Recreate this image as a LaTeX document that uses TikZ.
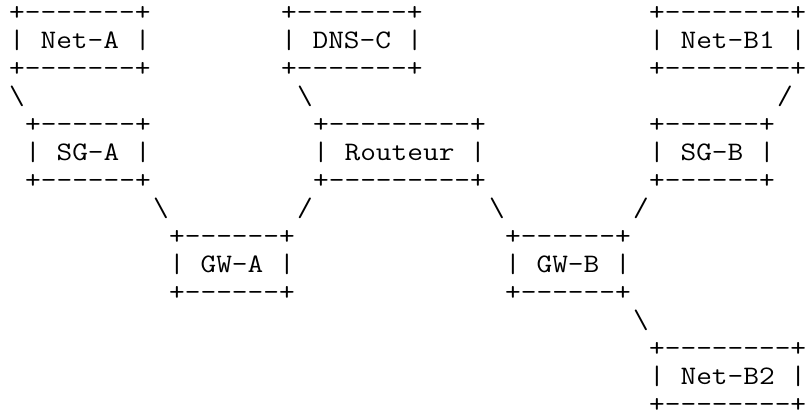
\documentclass[tikz,border=0pt]{standalone}
\begin{document}
\begin{tikzpicture}[x=16pt, y=-28pt,
    ascii/.style={font=\fontsize{30.48}{32}\selectfont\ttfamily,
      inner sep=0pt, anchor=base west, align=left,
      yscale=0.875, transform shape}]

  \useasboundingbox (-9pt,20.5pt) rectangle (797pt,-392.5pt);

  % Kaesten oben (Grundlinie = unterste Zeile)
  \node[ascii] (neta) at (0,2) {+-------+\\| Net-A |\\+-------+};
  \node[ascii] (dnsc) at (17,2) {+-------+\\| DNS-C |\\+-------+};
  \node[ascii] (netbone) at (40,2) {+--------+\\| Net-B1 |\\+--------+};

  % Verbindungen zur zweiten Reihe
  \node[ascii] (ln1) at (0,3) {\textbackslash};
  \node[ascii] (ln2) at (18,3) {\textbackslash};
  \node[ascii] (ln3) at (48,3) {/};

  % zweite Reihe
  \node[ascii] (sga) at (1,6) {+------+\\| SG-A |\\+------+};
  \node[ascii] (routeur) at (19,6) {+---------+\\| Routeur |\\+---------+};
  \node[ascii] (sgb) at (40,6) {+------+\\| SG-B |\\+------+};

  % Verbindungen zu den Gateways
  \node[ascii] (ln4) at (9,7) {\textbackslash};
  \node[ascii] (ln5) at (18,7) {/};
  \node[ascii] (ln6) at (30,7) {\textbackslash};
  \node[ascii] (ln7) at (39,7) {/};

  % Gateways
  \node[ascii] (gwa) at (10,10) {+------+\\| GW-A |\\+------+};
  \node[ascii] (gwb) at (31,10) {+------+\\| GW-B |\\+------+};

  % Netz B2 unten rechts
  \node[ascii] (ln8) at (39,11) {\textbackslash};
  \node[ascii] (netbtwo) at (40,14) {+--------+\\| Net-B2 |\\+--------+};

\end{tikzpicture}
\end{document}
